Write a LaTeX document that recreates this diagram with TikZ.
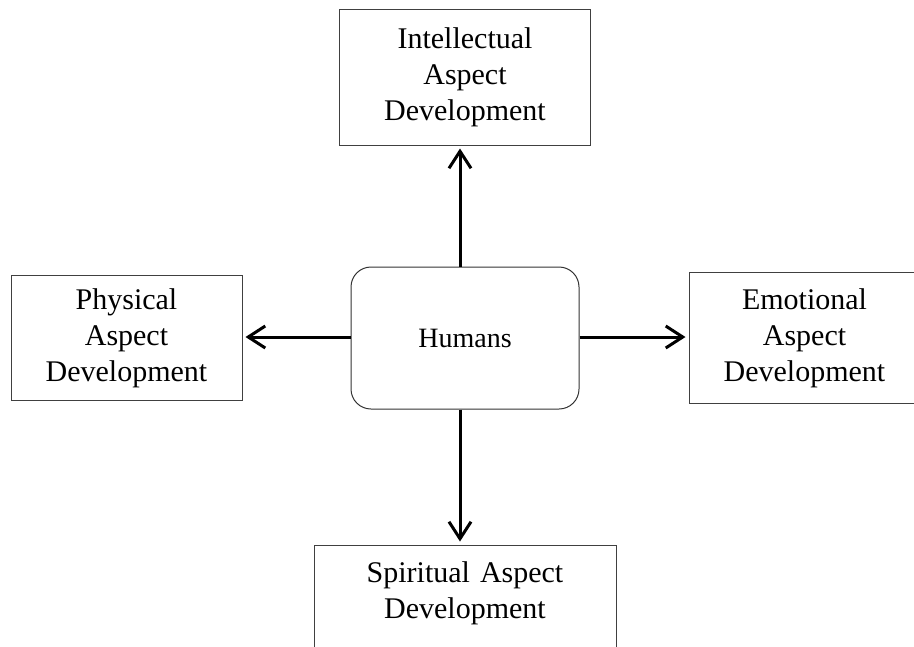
\documentclass[tikz,border=0pt]{standalone}
\usepackage{fontspec}
\setmainfont{Liberation Serif}
\usetikzlibrary{positioning,arrows.meta}

\begin{document}
\begin{tikzpicture}[x=1pt, y=-1pt,
    aspect/.style={draw=black!75, line width=1pt, align=center, inner xsep=0pt,
        font=\fontsize{30}{36}\selectfont},
    core/.style={draw=black!80, line width=1pt, rounded corners=20pt,
        minimum width=228pt, minimum height=142pt,
        font=\fontsize{28}{34}\selectfont},
    outarrow/.style={-{Straight Barb[length=17pt, width=22pt]}, line width=3pt, shorten >=3pt}]

    \useasboundingbox (0,0) rectangle (914,646);

    \node [core] (hum) at (465,338) {Humans};
    \node [aspect, text width=251pt, minimum height=136pt] (intel) [above=121pt of hum] {Intellectual\\Aspect\\Development};
    \node [aspect, text width=231pt, minimum height=125pt] (phys) [left=108pt of hum] {Physical\\Aspect\\Development};
    \node [aspect, text width=231pt, minimum height=131pt] (emo) [right=109pt of hum] {Emotional\\Aspect\\Development};
    \node [aspect, text width=302pt, text height=30pt, text depth=120pt, inner ysep=7pt] (spirit) [below=135pt of hum] {Spiritual Aspect\\Development};


    \draw[outarrow] ([xshift=-5pt]hum.north) -- ([xshift=-5pt]intel.south);
    \draw[outarrow] ([yshift=1pt]hum.west) -- ([yshift=1pt]phys.east);
    \draw[outarrow] ([yshift=1pt]hum.east) -- ([yshift=1pt]emo.west);
    \draw[outarrow] ([xshift=-5pt]hum.south) -- ([xshift=-5pt]spirit.north);


\end{tikzpicture}
\end{document}
